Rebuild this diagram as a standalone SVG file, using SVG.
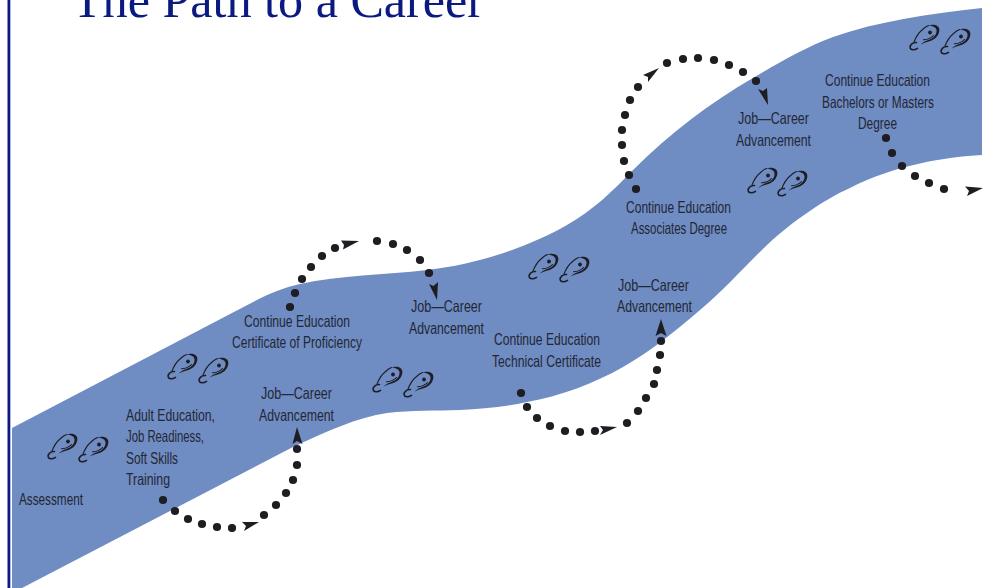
<svg xmlns="http://www.w3.org/2000/svg" width="987" height="588" viewBox="0 0 987 588">
<style>
.t{font-family:"Liberation Sans",Arial,sans-serif;font-size:16.5px;fill:#232733}
.title{font-family:"Liberation Serif","Times New Roman",serif;font-size:50px;fill:#0a1a80}
.d{fill:#1d1d22}
.a{fill:#1d1d22}
.f{fill:none;stroke:#1d1d22;stroke-linecap:round}
</style>
<defs>
<circle id="dot" r="4.1" class="d"/>
<g id="foot">
<path class="f" stroke-width="1.1" d="M5 17C7 12 10 7.500 13 5C15 3 17 1.500 19.500 .6"/>
<path class="d" d="M19 .3C25 -1 31 0 30.300 6C29.500 12 24.500 15 20.500 16.200C17 17.200 14 18.200 11 20C14 17 18 15.300 21 14.300C25 12.800 28 9 27.500 5C27 2 23 1 19 .3Z"/>
<path class="f" stroke-width="1.6" d="M7.500 17.500C3.500 17.300 .5 20 1.200 23C1.800 25.300 5.500 25.400 8.500 23.400"/>
<circle cx="21" cy="7.500" r="1.9" class="d"/>
<path class="f" stroke-width="1.1" d="M14.500 14.800C18 14.500 22 13.500 24.500 10.500"/>
</g>
</defs>
<rect x="7.500" y="0" width="2.800" height="588" fill="#0a1a80"/>
<text class="title" x="72" y="17" textLength="412" lengthAdjust="spacingAndGlyphs">The Path to a Career</text>
<path id="band" fill="#6f8cc3" d="M12 428L232 313C258 299 277 289 300 284C340 275 385 275 427 270C480 264 530 246 567 225C593 210 612 192 633 170C670 133 710 103 753 78C782 61 806 47 833 37C878 21 930 14 982 8L982 155C945 157 895 165 850 188C825 199 793 221 767 245C745 266 725 289 700 310C677 330 651 351 623 367C593 384 560 396 527 402C505 407 482 409 460 410C435 411 412 410 387 413C358 417 325 432 293 447L22 588L12 588Z"/>
<g id="connectors">
<g id="path1"><use href="#dot" x="163" y="500"/><use href="#dot" x="175" y="511"/><use href="#dot" x="188" y="519"/><use href="#dot" x="202" y="524"/><use href="#dot" x="217" y="527"/><use href="#dot" x="232" y="528"/><path class="a" d="M259 522L242 522L246 526L244 531Z"/><use href="#dot" x="264" y="515"/><use href="#dot" x="276" y="505"/><use href="#dot" x="286" y="493"/><use href="#dot" x="293" y="480"/><use href="#dot" x="297" y="465"/><use href="#dot" x="297" y="449"/><path class="a" d="M297 427L302.500 444L297 441L292.500 444Z"/></g>
<g id="path2"><use href="#dot" x="290" y="307"/><use href="#dot" x="295" y="293"/><use href="#dot" x="302" y="279"/><use href="#dot" x="311" y="267"/><use href="#dot" x="322" y="256"/><use href="#dot" x="335" y="248"/><path class="a" d="M359 241L341 240.500L344 245L343 249.500Z"/><use href="#dot" x="377" y="241"/><use href="#dot" x="393" y="244"/><use href="#dot" x="407" y="250"/><use href="#dot" x="420" y="260"/><use href="#dot" x="429" y="273"/><path class="a" d="M437 300L429 284L433.500 286L438 282Z"/></g>
<g id="path3"><use href="#dot" x="521" y="393"/><use href="#dot" x="527" y="407"/><use href="#dot" x="537" y="418"/><use href="#dot" x="550" y="426"/><use href="#dot" x="565" y="431"/><use href="#dot" x="580" y="432"/><use href="#dot" x="595" y="431"/><path class="a" d="M617 427L600 426L603 430L600 435Z"/><use href="#dot" x="627" y="423"/><use href="#dot" x="638" y="411"/><use href="#dot" x="646" y="398"/><use href="#dot" x="654" y="384"/><use href="#dot" x="657" y="370"/><use href="#dot" x="660" y="355"/><use href="#dot" x="661" y="341"/><path class="a" d="M661 319L666.500 336L661 333L655.500 336Z"/></g>
<g id="path4"><use href="#dot" x="636" y="189"/><use href="#dot" x="629" y="175"/><use href="#dot" x="624" y="161"/><use href="#dot" x="622" y="145"/><use href="#dot" x="622" y="130"/><use href="#dot" x="625" y="115"/><use href="#dot" x="630" y="100"/><use href="#dot" x="638" y="87"/><path class="a" d="M659 68L643 75L648 77L648 82Z"/><use href="#dot" x="667" y="63"/><use href="#dot" x="683" y="59"/><use href="#dot" x="698" y="58"/><use href="#dot" x="714" y="60"/><use href="#dot" x="729" y="65"/><use href="#dot" x="743" y="72"/><use href="#dot" x="756" y="81"/><path class="a" d="M768 105L758 89L763 91L767 88Z"/></g>
<g id="path5"><use href="#dot" x="886" y="138"/><use href="#dot" x="892" y="153"/><use href="#dot" x="902" y="166"/><use href="#dot" x="915" y="176"/><use href="#dot" x="929" y="183"/><use href="#dot" x="944" y="189"/><path class="a" d="M983 188L965 186.500L969 191L967 196Z"/></g>
</g>
<g id="footprints">
<use href="#foot" x="47" y="434"/><use href="#foot" x="78" y="437"/>
<use href="#foot" x="167" y="354"/><use href="#foot" x="198" y="358"/>
<use href="#foot" x="372" y="367"/><use href="#foot" x="403" y="372"/>
<use href="#foot" x="528" y="254"/><use href="#foot" x="559" y="257"/>
<use href="#foot" x="747" y="168"/><use href="#foot" x="777" y="171"/>
<use href="#foot" x="909" y="25"/><use href="#foot" x="940" y="29"/>
</g>
<g id="assessment"><text class="t" x="19" y="505" textLength="64" lengthAdjust="spacingAndGlyphs">Assessment</text></g>
<g id="adult-education">
<text class="t" x="126" y="421" textLength="89" lengthAdjust="spacingAndGlyphs">Adult Education,</text>
<text class="t" x="126" y="442" textLength="78" lengthAdjust="spacingAndGlyphs">Job Readiness,</text>
<text class="t" x="126" y="464" textLength="52" lengthAdjust="spacingAndGlyphs">Soft Skills</text>
<text class="t" x="126" y="485" textLength="44" lengthAdjust="spacingAndGlyphs">Training</text>
</g>
<g id="job1"><text class="t" x="261" y="399" textLength="71" lengthAdjust="spacingAndGlyphs">Job—Career</text><text class="t" x="259" y="421" textLength="75" lengthAdjust="spacingAndGlyphs">Advancement</text></g>
<g id="certificate"><text class="t" x="244" y="327" textLength="106" lengthAdjust="spacingAndGlyphs">Continue Education</text><text class="t" x="232" y="348" textLength="130" lengthAdjust="spacingAndGlyphs">Certificate of Proficiency</text></g>
<g id="job2"><text class="t" x="411" y="312" textLength="71" lengthAdjust="spacingAndGlyphs">Job—Career</text><text class="t" x="409" y="334" textLength="75" lengthAdjust="spacingAndGlyphs">Advancement</text></g>
<g id="technical"><text class="t" x="494" y="345" textLength="106" lengthAdjust="spacingAndGlyphs">Continue Education</text><text class="t" x="492" y="367" textLength="109" lengthAdjust="spacingAndGlyphs">Technical Certificate</text></g>
<g id="job3"><text class="t" x="618" y="291" textLength="71" lengthAdjust="spacingAndGlyphs">Job—Career</text><text class="t" x="617" y="312" textLength="75" lengthAdjust="spacingAndGlyphs">Advancement</text></g>
<g id="associates"><text class="t" x="626" y="213" textLength="105" lengthAdjust="spacingAndGlyphs">Continue Education</text><text class="t" x="631" y="234" textLength="96" lengthAdjust="spacingAndGlyphs">Associates Degree</text></g>
<g id="job4"><text class="t" x="738" y="124" textLength="71" lengthAdjust="spacingAndGlyphs">Job—Career</text><text class="t" x="736" y="146" textLength="75" lengthAdjust="spacingAndGlyphs">Advancement</text></g>
<g id="bachelors"><text class="t" x="825" y="86" textLength="105" lengthAdjust="spacingAndGlyphs">Continue Education</text><text class="t" x="822" y="108" textLength="112" lengthAdjust="spacingAndGlyphs">Bachelors or Masters</text><text class="t" x="858" y="129" textLength="39" lengthAdjust="spacingAndGlyphs">Degree</text></g>
</svg>
